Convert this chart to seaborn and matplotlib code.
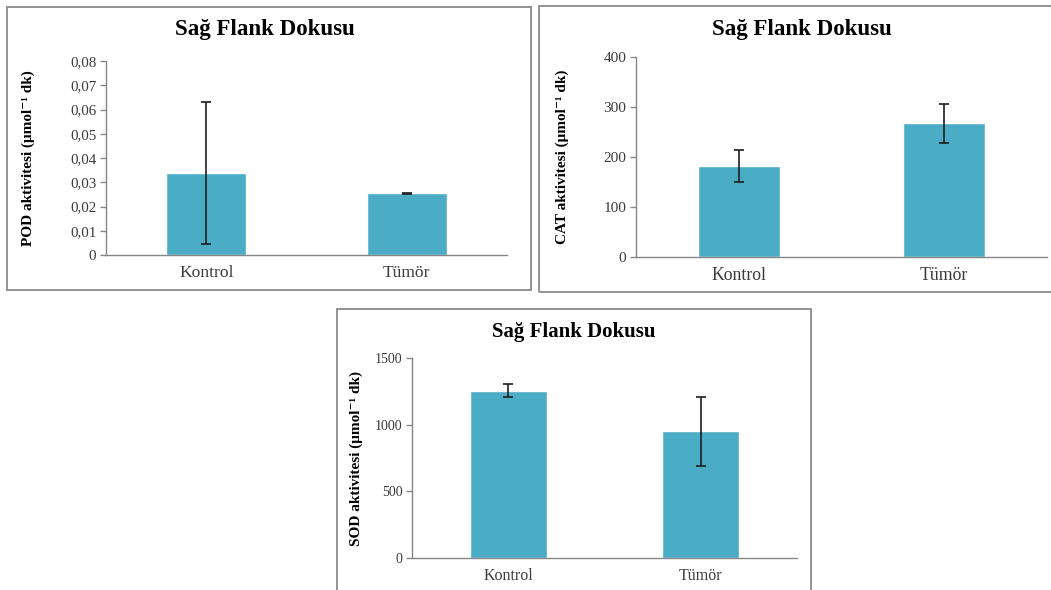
import matplotlib
matplotlib.use("Agg")
import matplotlib.pyplot as plt
from matplotlib.patches import Rectangle
import seaborn as sns
import pandas as pd

sns.set_theme(style="white")
plt.rcParams["font.family"] = ["Liberation Serif", "DejaVu Serif"]

groups = ["Kontrol", "Tümör"]
title = "Sağ Flank Dokusu"

pod_mean = [0.0339, 0.0254]
pod_err = [0.0293, 0.0003]
pod_ticks = [0, 0.01, 0.02, 0.03, 0.04, 0.05, 0.06, 0.07, 0.08]
pod_labels = ["0", "0,01", "0,02", "0,03", "0,04", "0,05", "0,06", "0,07", "0,08"]

cat_mean = [183, 268]
cat_err = [32, 39]
cat_ticks = [0, 100, 200, 300, 400]
cat_labels = ["0", "100", "200", "300", "400"]

sod_mean = [1256, 951]
sod_err = [52, 260]
sod_ticks = [0, 500, 1000, 1500]
sod_labels = ["0", "500", "1000", "1500"]

W, H = 1051, 590
BAR = "#4BACC6"
AXIS = "#868686"
TEXT = "#3a3a3a"

fig = plt.figure(figsize=(W / 100, H / 100), dpi=100)
fig.patch.set_facecolor("white")


def frac_box(x0, y0, x1, y1):
    return [x0 / W, 1 - y1 / H, (x1 - x0) / W, (y1 - y0) / H]


# panel frames
for (x0, y0, x1, y1) in [(7, 7, 531, 290), (539, 6, 1060, 292), (337, 309, 811, 600)]:
    fig.patches.append(Rectangle((x0 / W, 1 - y1 / H), (x1 - x0) / W, (y1 - y0) / H,
                                 transform=fig.transFigure, fill=False,
                                 edgecolor="#8a8a8a", linewidth=1.3, zorder=0))


def panel(box, means, errs, ticks, labels, ylabel, title_xy, label_x,
          ytick_fs, xtick_fs, ylab_fs, title_fs):
    ax = fig.add_axes(frac_box(*box))
    df = pd.DataFrame({"grup": groups, "deger": means})
    sns.barplot(data=df, x="grup", y="deger", color=BAR, saturation=1,
                width=0.4, errorbar=None, ax=ax, zorder=2)
    ax.errorbar(range(len(groups)), means, yerr=errs, fmt="none",
                ecolor="#1e1e1e", elinewidth=1.2, capsize=3.5, capthick=1.2, zorder=3)
    ax.set_xlim(-0.5, len(groups) - 0.5)
    ax.set_ylim(ticks[0], ticks[-1])
    ax.set_yticks(ticks)
    ax.set_yticklabels(labels, fontsize=ytick_fs, color=TEXT)
    ax.set_xticks(range(len(groups)))
    ax.set_xticklabels(groups, fontsize=xtick_fs, color=TEXT)
    ax.set_xticks([i - 0.5 for i in range(len(groups) + 1)], minor=True)
    ax.tick_params(axis="x", which="major", length=0, pad=7)
    ax.tick_params(axis="x", which="minor", length=4, width=1, color=AXIS, direction="out")
    ax.tick_params(axis="y", length=4, width=1, color=AXIS, direction="out", pad=3, left=True)
    for s in ["top", "right"]:
        ax.spines[s].set_visible(False)
    for s in ["left", "bottom"]:
        ax.spines[s].set_color(AXIS)
        ax.spines[s].set_linewidth(1.0)
    ax.set_xlabel("")
    ax.set_ylabel(ylabel, fontsize=ylab_fs, fontweight="bold", color="black")
    x0, y0, x1, y1 = box
    ax.yaxis.set_label_coords((label_x - x0) / (x1 - x0), 0.5)
    ax.set_facecolor("none")
    fig.text(title_xy[0] / W, 1 - title_xy[1] / H, title, ha="center", va="center",
             fontsize=title_fs, fontweight="bold", color="black")
    return ax


panel((106, 61, 507, 255), pod_mean, pod_err, pod_ticks, pod_labels,
      "POD aktivitesi (μmol⁻¹ dk)", (265, 30), 35, 10.8, 12.6, 11, 16.5)
panel((636, 57, 1047, 257), cat_mean, cat_err, cat_ticks, cat_labels,
      "CAT aktivitesi (μmol⁻¹ dk)", (802, 30), 569, 11, 12.8, 11, 16.5)
panel((412, 358, 797, 558), sod_mean, sod_err, sod_ticks, sod_labels,
      "SOD aktivitesi (μmol⁻¹ dk)", (574, 332), 363, 10, 11.5, 11, 15)

fig.savefig("out.png", dpi=100, facecolor="white")
